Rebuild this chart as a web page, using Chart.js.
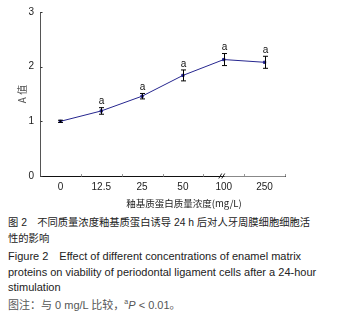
<!DOCTYPE html>
<html>
<head>
<meta charset="utf-8">
<script src="https://cdn.jsdelivr.net/npm/chart.js@4.4.0/dist/chart.umd.min.js"></script>
<style>
  body { margin: 0; background: #fff; width: 351px; height: 326px; overflow: hidden; }
  #wrap { position: relative; width: 351px; height: 212px; }
  .cap { position: absolute; left: 8px; font-family: "Liberation Sans", "Noto Sans CJK SC", sans-serif; font-size: 11px; line-height: 15.5px; color: #222; white-space: nowrap; }
  .zh { font-size: 10.3px; }
  .note { color: #555; }
</style>
</head>
<body>
<div id="wrap"><canvas id="chart" width="351" height="212"></canvas></div>
<div class="cap zh" style="top:215px">图 2　不同质量浓度釉基质蛋白诱导 24 h 后对人牙周膜细胞细胞活<br>性的影响</div>
<div class="cap" style="top:249px">Figure 2　Effect of different concentrations of enamel matrix<br>proteins on viability of periodontal ligament cells after a 24-hour<br>stimulation</div>
<div class="cap note" style="top:294px">图注：与 0 mg/L 比较，<sup style="font-size:7px">a</sup><i>P</i> &lt; 0.01。</div>
<script>
// concentrations (mg/L)
const doses = ['0', '12.5', '25', '50', '100', '250'];
// A value, mean and error
const means = [1.00, 1.19, 1.46, 1.84, 2.13, 2.08];
const errs = [0.02, 0.06, 0.05, 0.10, 0.11, 0.11];
// significance marks vs 0 mg/L
const marks = ['', 'a', 'a', 'a', 'a', 'a'];
const yTicks = [0, 1, 2, 3];

const cjk = '"Noto Sans CJK SC", "Liberation Sans", sans-serif';
const latin = '"Liberation Sans", Arial, sans-serif';

const extras = {
  id: 'extras',
  afterDatasetsDraw(chart) {
    const c = chart.ctx;
    const xs = chart.scales.x, ys = chart.scales.y;
    c.save();
    // error bars + marks
    c.strokeStyle = '#000';
    c.lineWidth = 1;
    c.fillStyle = '#111';
    c.font = '10px ' + latin;
    c.textAlign = 'center';
    c.textBaseline = 'bottom';
    means.forEach((m, i) => {
      const x = Math.round(xs.getPixelForValue(i)) + 0.5;
      const yt = ys.getPixelForValue(m + errs[i]);
      const yb = ys.getPixelForValue(m - errs[i]);
      c.beginPath();
      c.moveTo(x, yt); c.lineTo(x, yb);
      c.moveTo(x - 2.5, yt); c.lineTo(x + 2.5, yt);
      c.moveTo(x - 2.5, yb); c.lineTo(x + 2.5, yb);
      c.stroke();
      if (marks[i]) c.fillText(marks[i], x, yt - 1);
    });
    c.restore();
  },
  afterDraw(chart) {
    const c = chart.ctx;
    const xs = chart.scales.x, ys = chart.scales.y;
    const base = Math.round(ys.getPixelForValue(0)) + 0.5;
    const left = Math.round(xs.left) + 0.5;
    c.save();
    // y ticks pointing in
    c.strokeStyle = '#333';
    c.lineWidth = 1;
    yTicks.forEach(v => {
      const y = Math.round(ys.getPixelForValue(v)) + 0.5;
      c.beginPath(); c.moveTo(left, y); c.lineTo(left + 2, y); c.stroke();
    });
    // x ticks between categories pointing up
    c.strokeStyle = '#999';
    for (let i = 0; i < doses.length; i++) {
      const x = Math.round(xs.getPixelForValue(i) + (xs.getPixelForValue(1) - xs.getPixelForValue(0)) / 2) + 0.5;
      c.beginPath(); c.moveTo(x, base); c.lineTo(x, base - 2.5); c.stroke();
    }
    // lighter segment after the break
    const brk = xs.getPixelForValue(4) - 2;
    c.strokeStyle = '#fff';
    c.lineWidth = 1;
    c.beginPath(); c.moveTo(brk + 3, base); c.lineTo(xs.right, base); c.stroke();
    c.strokeStyle = '#888';
    c.beginPath(); c.moveTo(brk + 3, base); c.lineTo(xs.right, base); c.stroke();
    // break mark
    c.strokeStyle = '#222';
    c.beginPath();
    c.moveTo(brk - 3, base + 2); c.lineTo(brk, base - 3);
    c.moveTo(brk, base + 2); c.lineTo(brk + 3, base - 3);
    c.stroke();
    // x title
    c.fillStyle = '#222';
    c.font = '9.5px ' + cjk;
    c.textAlign = 'center';
    c.textBaseline = 'middle';
    c.fillText('釉基质蛋白质量浓度(mg/L)', 184, 203);
    c.restore();
  }
};

new Chart(document.getElementById('chart'), {
  type: 'line',
  data: {
    labels: doses,
    datasets: [{
      data: means,
      borderColor: '#26268f',
      backgroundColor: '#1a1a80',
      borderWidth: 1,
      pointStyle: 'rect',
      pointRadius: 1.6,
      tension: 0
    }]
  },
  options: {
    responsive: false,
    animation: false,
    devicePixelRatio: 1,
    layout: { padding: { left: 0, right: 66, top: 6, bottom: 0 } },
    plugins: { legend: { display: false }, tooltip: { enabled: false } },
    scales: {
      x: {
        type: 'category',
        offset: true,
        grid: { display: false, drawTicks: false },
        border: { color: '#111', width: 1 },
        ticks: { color: '#222', padding: 5, font: { family: latin, size: 10 } },
        afterFit(s) { s.height = 36; }
      },
      y: {
        min: 0, max: 3,
        grid: { display: false, drawTicks: false },
        border: { color: '#555', width: 1 },
        ticks: { stepSize: 1, color: '#222', padding: 6, font: { family: latin, size: 10 } },
        title: { display: true, text: 'A 值', color: '#555', padding: { top: 16, bottom: 0 }, font: { family: cjk, size: 10 } },
        afterFit(s) { s.width = 40; }
      }
    }
  },
  plugins: [extras]
});
</script>
</body>
</html>
